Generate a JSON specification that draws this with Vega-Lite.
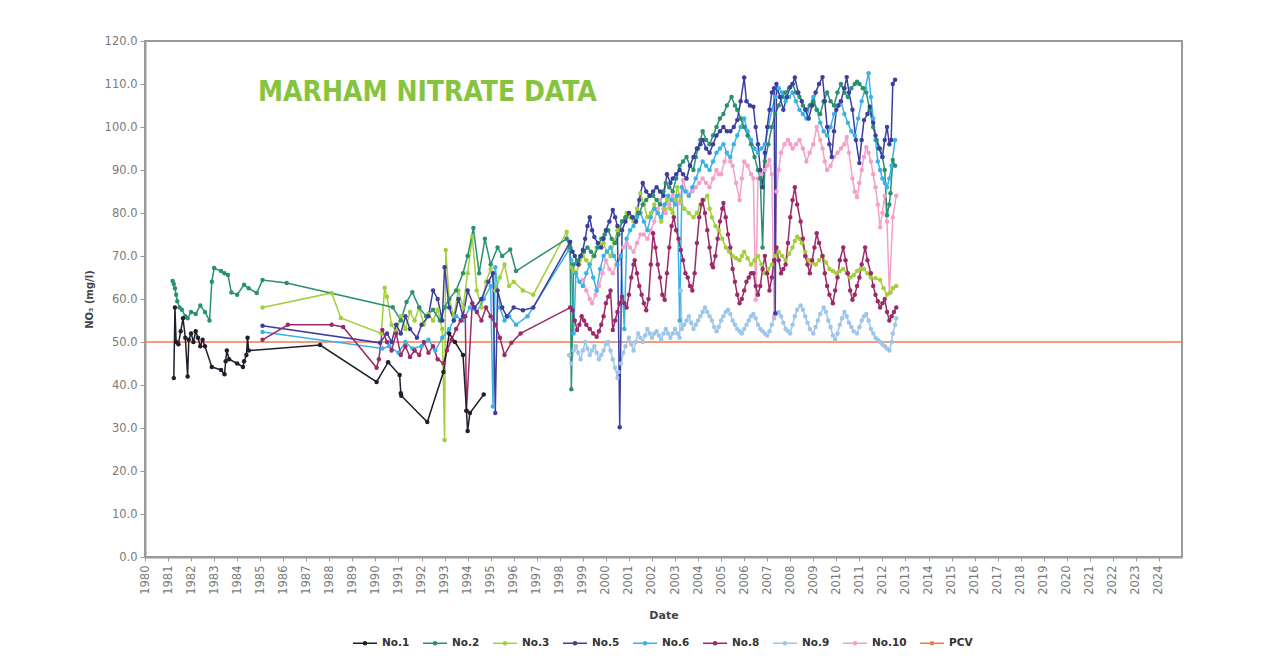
{
"$schema":"https://vega.github.io/schema/vega-lite/v6.json",
"autosize":"none",
"width":1037,"height":516,
"padding":{"left":145,"top":41,"right":81,"bottom":107},
"background":"white",
"title":{"text":"MARHAM NITRATE DATA","anchor":"start","frame":"group","dx":113,"dy":94,"offset":0,"baseline":"alphabetic","font":"DejaVu Sans Condensed, DejaVu Sans, sans-serif","fontWeight":"bold","fontSize":28,"color":"#86c440"},
"config":{"view":{"stroke":"#9a9a9a","strokeWidth":2},"axis":{"labelFont":"DejaVu Sans","titleFont":"DejaVu Sans","labelColor":"#7a7a7a","titleColor":"#444444","tickColor":"#9a9a9a","domainColor":"#9a9a9a","domainWidth":2,"grid":false}},
"data":{"values":[
{"s":"PCV","t":1980,"v":50},{"s":"PCV","t":2025,"v":50},
{"s":"No.9","t":1998.4,"v":47},{"s":"No.9","t":1998.5,"v":45},{"s":"No.9","t":1998.6,"v":48},{"s":"No.9","t":1998.7,"v":49},{"s":"No.9","t":1998.8,"v":47.5},{"s":"No.9","t":1998.9,"v":46},{"s":"No.9","t":1999.0,"v":48},{"s":"No.9","t":1999.1,"v":50},{"s":"No.9","t":1999.2,"v":48.5},{"s":"No.9","t":1999.3,"v":47},{"s":"No.9","t":1999.4,"v":48},{"s":"No.9","t":1999.5,"v":49},{"s":"No.9","t":1999.6,"v":47.5},{"s":"No.9","t":1999.7,"v":46},{"s":"No.9","t":1999.8,"v":47},{"s":"No.9","t":1999.9,"v":48},{"s":"No.9","t":2000.0,"v":49.5},{"s":"No.9","t":2000.1,"v":50},{"s":"No.9","t":2000.2,"v":48},{"s":"No.9","t":2000.3,"v":46},{"s":"No.9","t":2000.4,"v":44},{"s":"No.9","t":2000.5,"v":41.6},{"s":"No.9","t":2000.55,"v":43},{"s":"No.9","t":2000.65,"v":45},{"s":"No.9","t":2000.75,"v":47.5},{"s":"No.9","t":2000.85,"v":49},{"s":"No.9","t":2001.0,"v":51},{"s":"No.9","t":2001.1,"v":49.5},{"s":"No.9","t":2001.2,"v":48},{"s":"No.9","t":2001.3,"v":50},{"s":"No.9","t":2001.4,"v":52},{"s":"No.9","t":2001.5,"v":51},{"s":"No.9","t":2001.6,"v":50},{"s":"No.9","t":2001.7,"v":51.5},{"s":"No.9","t":2001.8,"v":53},{"s":"No.9","t":2001.9,"v":52},{"s":"No.9","t":2002.0,"v":51},{"s":"No.9","t":2002.1,"v":52},{"s":"No.9","t":2002.2,"v":52.5},{"s":"No.9","t":2002.3,"v":51.5},{"s":"No.9","t":2002.4,"v":50.5},{"s":"No.9","t":2002.5,"v":52},{"s":"No.9","t":2002.6,"v":53},{"s":"No.9","t":2002.7,"v":52},{"s":"No.9","t":2002.8,"v":51},{"s":"No.9","t":2002.9,"v":52},{"s":"No.9","t":2003.0,"v":53},{"s":"No.9","t":2003.1,"v":52},{"s":"No.9","t":2003.2,"v":51},{"s":"No.9","t":2003.25,"v":62},{"s":"No.9","t":2003.3,"v":53},{"s":"No.9","t":2003.4,"v":54},{"s":"No.9","t":2003.5,"v":55},{"s":"No.9","t":2003.6,"v":56},{"s":"No.9","t":2003.7,"v":54.5},{"s":"No.9","t":2003.8,"v":53},{"s":"No.9","t":2003.9,"v":54},{"s":"No.9","t":2004.0,"v":55},{"s":"No.9","t":2004.1,"v":56},{"s":"No.9","t":2004.2,"v":57},{"s":"No.9","t":2004.3,"v":58},{"s":"No.9","t":2004.4,"v":57},{"s":"No.9","t":2004.5,"v":56},{"s":"No.9","t":2004.6,"v":55},{"s":"No.9","t":2004.7,"v":53.5},{"s":"No.9","t":2004.8,"v":52.5},{"s":"No.9","t":2004.9,"v":53.5},{"s":"No.9","t":2005.0,"v":55},{"s":"No.9","t":2005.1,"v":56},{"s":"No.9","t":2005.2,"v":57},{"s":"No.9","t":2005.3,"v":57.5},{"s":"No.9","t":2005.4,"v":56.5},{"s":"No.9","t":2005.5,"v":55},{"s":"No.9","t":2005.6,"v":54},{"s":"No.9","t":2005.7,"v":53},{"s":"No.9","t":2005.8,"v":52.5},{"s":"No.9","t":2005.9,"v":52},{"s":"No.9","t":2006.0,"v":53},{"s":"No.9","t":2006.1,"v":54},{"s":"No.9","t":2006.2,"v":55},{"s":"No.9","t":2006.3,"v":56},{"s":"No.9","t":2006.4,"v":56.5},{"s":"No.9","t":2006.5,"v":55.5},{"s":"No.9","t":2006.6,"v":54},{"s":"No.9","t":2006.7,"v":53},{"s":"No.9","t":2006.8,"v":52.5},{"s":"No.9","t":2006.9,"v":52},{"s":"No.9","t":2007.0,"v":51.5},{"s":"No.9","t":2007.1,"v":52.5},{"s":"No.9","t":2007.2,"v":54},{"s":"No.9","t":2007.3,"v":55.5},{"s":"No.9","t":2007.4,"v":56.5},{"s":"No.9","t":2007.5,"v":57},{"s":"No.9","t":2007.6,"v":56},{"s":"No.9","t":2007.7,"v":54.5},{"s":"No.9","t":2007.8,"v":53},{"s":"No.9","t":2007.9,"v":52.5},{"s":"No.9","t":2008.0,"v":52},{"s":"No.9","t":2008.1,"v":54},{"s":"No.9","t":2008.2,"v":56},{"s":"No.9","t":2008.3,"v":57.5},{"s":"No.9","t":2008.45,"v":58.5},{"s":"No.9","t":2008.55,"v":57.5},{"s":"No.9","t":2008.65,"v":56},{"s":"No.9","t":2008.75,"v":54.5},{"s":"No.9","t":2008.85,"v":53},{"s":"No.9","t":2009.0,"v":52},{"s":"No.9","t":2009.1,"v":53.5},{"s":"No.9","t":2009.2,"v":55},{"s":"No.9","t":2009.3,"v":56.5},{"s":"No.9","t":2009.45,"v":58},{"s":"No.9","t":2009.55,"v":57},{"s":"No.9","t":2009.65,"v":55},{"s":"No.9","t":2009.75,"v":53.5},{"s":"No.9","t":2009.85,"v":51.5},{"s":"No.9","t":2009.95,"v":50.5},{"s":"No.9","t":2010.05,"v":52},{"s":"No.9","t":2010.15,"v":54},{"s":"No.9","t":2010.25,"v":55.5},{"s":"No.9","t":2010.35,"v":57},{"s":"No.9","t":2010.45,"v":56},{"s":"No.9","t":2010.55,"v":54.5},{"s":"No.9","t":2010.65,"v":53.5},{"s":"No.9","t":2010.75,"v":52.5},{"s":"No.9","t":2010.9,"v":52},{"s":"No.9","t":2011.0,"v":53.5},{"s":"No.9","t":2011.1,"v":55},{"s":"No.9","t":2011.2,"v":56},{"s":"No.9","t":2011.3,"v":56.5},{"s":"No.9","t":2011.4,"v":55},{"s":"No.9","t":2011.5,"v":53},{"s":"No.9","t":2011.6,"v":52},{"s":"No.9","t":2011.7,"v":51},{"s":"No.9","t":2011.8,"v":50.5},{"s":"No.9","t":2011.9,"v":50},{"s":"No.9","t":2012.0,"v":49.5},{"s":"No.9","t":2012.1,"v":49},{"s":"No.9","t":2012.2,"v":48.5},{"s":"No.9","t":2012.3,"v":48},{"s":"No.9","t":2012.4,"v":50},{"s":"No.9","t":2012.45,"v":52},{"s":"No.9","t":2012.55,"v":54},{"s":"No.9","t":2012.6,"v":55.5},
{"s":"No.10","t":1999.0,"v":64.4},{"s":"No.10","t":1999.15,"v":62},{"s":"No.10","t":1999.3,"v":60},{"s":"No.10","t":1999.4,"v":59},{"s":"No.10","t":1999.55,"v":61},{"s":"No.10","t":1999.7,"v":63},{"s":"No.10","t":1999.85,"v":66},{"s":"No.10","t":2000.0,"v":69},{"s":"No.10","t":2000.15,"v":67},{"s":"No.10","t":2000.3,"v":66},{"s":"No.10","t":2000.45,"v":68},{"s":"No.10","t":2000.6,"v":70},{"s":"No.10","t":2000.75,"v":72},{"s":"No.10","t":2000.9,"v":73},{"s":"No.10","t":2001.05,"v":72},{"s":"No.10","t":2001.2,"v":71},{"s":"No.10","t":2001.35,"v":73},{"s":"No.10","t":2001.5,"v":75},{"s":"No.10","t":2001.65,"v":75},{"s":"No.10","t":2001.8,"v":74},{"s":"No.10","t":2001.95,"v":76},{"s":"No.10","t":2002.1,"v":78},{"s":"No.10","t":2002.25,"v":81},{"s":"No.10","t":2002.35,"v":83},{"s":"No.10","t":2002.5,"v":81},{"s":"No.10","t":2002.6,"v":80},{"s":"No.10","t":2002.75,"v":82},{"s":"No.10","t":2002.9,"v":84},{"s":"No.10","t":2003.05,"v":83},{"s":"No.10","t":2003.2,"v":82.3},{"s":"No.10","t":2003.35,"v":87.7},{"s":"No.10","t":2003.5,"v":85},{"s":"No.10","t":2003.6,"v":84},{"s":"No.10","t":2003.75,"v":85},{"s":"No.10","t":2003.9,"v":86},{"s":"No.10","t":2004.05,"v":87},{"s":"No.10","t":2004.2,"v":88},{"s":"No.10","t":2004.35,"v":87},{"s":"No.10","t":2004.5,"v":86},{"s":"No.10","t":2004.65,"v":88},{"s":"No.10","t":2004.8,"v":90},{"s":"No.10","t":2004.9,"v":89},{"s":"No.10","t":2005.0,"v":89},{"s":"No.10","t":2005.15,"v":92},{"s":"No.10","t":2005.25,"v":94},{"s":"No.10","t":2005.4,"v":92},{"s":"No.10","t":2005.5,"v":91},{"s":"No.10","t":2005.65,"v":87},{"s":"No.10","t":2005.8,"v":83},{"s":"No.10","t":2005.9,"v":88},{"s":"No.10","t":2006.0,"v":92},{"s":"No.10","t":2006.15,"v":91},{"s":"No.10","t":2006.3,"v":89},{"s":"No.10","t":2006.4,"v":88},{"s":"No.10","t":2006.5,"v":59.8},{"s":"No.10","t":2006.6,"v":88},{"s":"No.10","t":2006.75,"v":89},{"s":"No.10","t":2006.9,"v":90},{"s":"No.10","t":2007.0,"v":91},{"s":"No.10","t":2007.1,"v":92.3},{"s":"No.10","t":2007.2,"v":89},{"s":"No.10","t":2007.3,"v":56},{"s":"No.10","t":2007.4,"v":85},{"s":"No.10","t":2007.5,"v":90},{"s":"No.10","t":2007.6,"v":94},{"s":"No.10","t":2007.75,"v":96},{"s":"No.10","t":2007.9,"v":97},{"s":"No.10","t":2008.0,"v":96},{"s":"No.10","t":2008.1,"v":95},{"s":"No.10","t":2008.25,"v":96},{"s":"No.10","t":2008.4,"v":97},{"s":"No.10","t":2008.55,"v":95},{"s":"No.10","t":2008.7,"v":92},{"s":"No.10","t":2008.85,"v":94},{"s":"No.10","t":2009.0,"v":96},{"s":"No.10","t":2009.15,"v":100},{"s":"No.10","t":2009.3,"v":97},{"s":"No.10","t":2009.4,"v":95},{"s":"No.10","t":2009.5,"v":92},{"s":"No.10","t":2009.6,"v":90},{"s":"No.10","t":2009.75,"v":91},{"s":"No.10","t":2009.9,"v":93},{"s":"No.10","t":2010.05,"v":94},{"s":"No.10","t":2010.2,"v":95},{"s":"No.10","t":2010.35,"v":96},{"s":"No.10","t":2010.45,"v":97.7},{"s":"No.10","t":2010.55,"v":94},{"s":"No.10","t":2010.7,"v":88},{"s":"No.10","t":2010.8,"v":85},{"s":"No.10","t":2010.9,"v":83.7},{"s":"No.10","t":2011.0,"v":87},{"s":"No.10","t":2011.1,"v":90},{"s":"No.10","t":2011.2,"v":93},{"s":"No.10","t":2011.3,"v":95.3},{"s":"No.10","t":2011.4,"v":94},{"s":"No.10","t":2011.5,"v":92},{"s":"No.10","t":2011.6,"v":89},{"s":"No.10","t":2011.7,"v":86},{"s":"No.10","t":2011.8,"v":82},{"s":"No.10","t":2011.9,"v":76.7},{"s":"No.10","t":2012.0,"v":80},{"s":"No.10","t":2012.1,"v":84},{"s":"No.10","t":2012.2,"v":78},{"s":"No.10","t":2012.3,"v":61.4},{"s":"No.10","t":2012.45,"v":79},{"s":"No.10","t":2012.6,"v":84},
{"s":"No.3","t":1985.1,"v":58},{"s":"No.3","t":1988.1,"v":61.4},{"s":"No.3","t":1988.5,"v":55.6},{"s":"No.3","t":1990.25,"v":52},{"s":"No.3","t":1990.4,"v":62.6},{"s":"No.3","t":1990.5,"v":60.5},{"s":"No.3","t":1990.7,"v":54},{"s":"No.3","t":1990.9,"v":52.5},{"s":"No.3","t":1991.1,"v":56},{"s":"No.3","t":1991.3,"v":53},{"s":"No.3","t":1991.5,"v":57},{"s":"No.3","t":1991.7,"v":55},{"s":"No.3","t":1991.9,"v":58},{"s":"No.3","t":1992.1,"v":54},{"s":"No.3","t":1992.3,"v":56.5},{"s":"No.3","t":1992.5,"v":55},{"s":"No.3","t":1992.7,"v":57.5},{"s":"No.3","t":1992.9,"v":53},{"s":"No.3","t":1993.0,"v":27.2},{"s":"No.3","t":1993.05,"v":71.4},{"s":"No.3","t":1993.2,"v":60},{"s":"No.3","t":1993.4,"v":56},{"s":"No.3","t":1993.6,"v":62},{"s":"No.3","t":1993.8,"v":58},{"s":"No.3","t":1994.0,"v":66},{"s":"No.3","t":1994.2,"v":74.5},{"s":"No.3","t":1994.4,"v":62},{"s":"No.3","t":1994.6,"v":58},{"s":"No.3","t":1994.8,"v":64},{"s":"No.3","t":1995.0,"v":67},{"s":"No.3","t":1995.2,"v":62},{"s":"No.3","t":1995.4,"v":65},{"s":"No.3","t":1995.6,"v":68},{"s":"No.3","t":1995.8,"v":63},{"s":"No.3","t":1996.0,"v":64},{"s":"No.3","t":1996.4,"v":62},{"s":"No.3","t":1996.85,"v":61},{"s":"No.3","t":1998.3,"v":75.6},{"s":"No.3","t":1998.5,"v":67.4},{"s":"No.3","t":1998.6,"v":66.5},{"s":"No.3","t":1998.7,"v":66},{"s":"No.3","t":1998.85,"v":68},{"s":"No.3","t":1999.0,"v":70},{"s":"No.3","t":1999.15,"v":69},{"s":"No.3","t":1999.3,"v":68},{"s":"No.3","t":1999.45,"v":70},{"s":"No.3","t":1999.6,"v":72},{"s":"No.3","t":1999.75,"v":72.5},{"s":"No.3","t":1999.9,"v":73},{"s":"No.3","t":2000.05,"v":71},{"s":"No.3","t":2000.2,"v":70},{"s":"No.3","t":2000.35,"v":73},{"s":"No.3","t":2000.5,"v":76},{"s":"No.3","t":2000.7,"v":78},{"s":"No.3","t":2000.9,"v":80},{"s":"No.3","t":2001.05,"v":79},{"s":"No.3","t":2001.2,"v":78},{"s":"No.3","t":2001.35,"v":81},{"s":"No.3","t":2001.5,"v":84.6},{"s":"No.3","t":2001.65,"v":82},{"s":"No.3","t":2001.8,"v":79},{"s":"No.3","t":2001.95,"v":80},{"s":"No.3","t":2002.1,"v":82},{"s":"No.3","t":2002.25,"v":80},{"s":"No.3","t":2002.4,"v":78},{"s":"No.3","t":2002.55,"v":81},{"s":"No.3","t":2002.65,"v":83},{"s":"No.3","t":2002.8,"v":81},{"s":"No.3","t":2002.9,"v":80},{"s":"No.3","t":2003.0,"v":83},{"s":"No.3","t":2003.1,"v":86},{"s":"No.3","t":2003.25,"v":83},{"s":"No.3","t":2003.4,"v":81},{"s":"No.3","t":2003.6,"v":80},{"s":"No.3","t":2003.8,"v":79},{"s":"No.3","t":2003.95,"v":80},{"s":"No.3","t":2004.1,"v":82},{"s":"No.3","t":2004.25,"v":83},{"s":"No.3","t":2004.4,"v":84},{"s":"No.3","t":2004.5,"v":81},{"s":"No.3","t":2004.6,"v":79},{"s":"No.3","t":2004.75,"v":77},{"s":"No.3","t":2004.9,"v":76},{"s":"No.3","t":2005.05,"v":74},{"s":"No.3","t":2005.2,"v":72},{"s":"No.3","t":2005.35,"v":71},{"s":"No.3","t":2005.5,"v":70},{"s":"No.3","t":2005.65,"v":69.5},{"s":"No.3","t":2005.8,"v":69},{"s":"No.3","t":2005.9,"v":70},{"s":"No.3","t":2006.0,"v":71},{"s":"No.3","t":2006.15,"v":69.5},{"s":"No.3","t":2006.3,"v":68},{"s":"No.3","t":2006.45,"v":69},{"s":"No.3","t":2006.6,"v":70},{"s":"No.3","t":2006.75,"v":68},{"s":"No.3","t":2006.9,"v":66},{"s":"No.3","t":2007.05,"v":67},{"s":"No.3","t":2007.2,"v":68},{"s":"No.3","t":2007.35,"v":70},{"s":"No.3","t":2007.5,"v":71},{"s":"No.3","t":2007.65,"v":70},{"s":"No.3","t":2007.8,"v":69},{"s":"No.3","t":2007.95,"v":70.5},{"s":"No.3","t":2008.1,"v":72},{"s":"No.3","t":2008.2,"v":73.5},{"s":"No.3","t":2008.3,"v":74.5},{"s":"No.3","t":2008.4,"v":74},{"s":"No.3","t":2008.5,"v":73},{"s":"No.3","t":2008.65,"v":71},{"s":"No.3","t":2008.8,"v":69},{"s":"No.3","t":2008.95,"v":68.5},{"s":"No.3","t":2009.1,"v":68},{"s":"No.3","t":2009.25,"v":69},{"s":"No.3","t":2009.4,"v":70},{"s":"No.3","t":2009.55,"v":68.5},{"s":"No.3","t":2009.7,"v":67},{"s":"No.3","t":2009.85,"v":66.5},{"s":"No.3","t":2010.0,"v":66},{"s":"No.3","t":2010.15,"v":66.5},{"s":"No.3","t":2010.3,"v":67},{"s":"No.3","t":2010.45,"v":66},{"s":"No.3","t":2010.6,"v":65},{"s":"No.3","t":2010.75,"v":65.5},{"s":"No.3","t":2010.9,"v":66.5},{"s":"No.3","t":2011.05,"v":67},{"s":"No.3","t":2011.2,"v":67},{"s":"No.3","t":2011.35,"v":66},{"s":"No.3","t":2011.5,"v":65},{"s":"No.3","t":2011.7,"v":64.8},{"s":"No.3","t":2011.9,"v":64.4},{"s":"No.3","t":2012.05,"v":62.5},{"s":"No.3","t":2012.2,"v":61},{"s":"No.3","t":2012.35,"v":61.5},{"s":"No.3","t":2012.45,"v":62.5},{"s":"No.3","t":2012.6,"v":63},
{"s":"No.6","t":1985.1,"v":52.3},{"s":"No.6","t":1990.3,"v":48.5},{"s":"No.6","t":1990.6,"v":49},{"s":"No.6","t":1991.0,"v":47.5},{"s":"No.6","t":1991.3,"v":50},{"s":"No.6","t":1991.6,"v":48.5},{"s":"No.6","t":1992.0,"v":49},{"s":"No.6","t":1992.3,"v":50.5},{"s":"No.6","t":1992.6,"v":48},{"s":"No.6","t":1992.9,"v":51},{"s":"No.6","t":1993.2,"v":53},{"s":"No.6","t":1993.5,"v":56},{"s":"No.6","t":1993.8,"v":55},{"s":"No.6","t":1994.1,"v":58},{"s":"No.6","t":1994.4,"v":57},{"s":"No.6","t":1994.7,"v":60},{"s":"No.6","t":1995.0,"v":63},{"s":"No.6","t":1995.1,"v":35},{"s":"No.6","t":1995.2,"v":67.4},{"s":"No.6","t":1995.4,"v":58},{"s":"No.6","t":1995.6,"v":55},{"s":"No.6","t":1995.8,"v":56},{"s":"No.6","t":1996.1,"v":54},{"s":"No.6","t":1996.6,"v":56},{"s":"No.6","t":1998.4,"v":71.5},{"s":"No.6","t":1998.5,"v":69},{"s":"No.6","t":1998.6,"v":52},{"s":"No.6","t":1998.7,"v":66},{"s":"No.6","t":1998.85,"v":64},{"s":"No.6","t":1999.0,"v":63},{"s":"No.6","t":1999.15,"v":66},{"s":"No.6","t":1999.3,"v":68},{"s":"No.6","t":1999.45,"v":65},{"s":"No.6","t":1999.6,"v":62},{"s":"No.6","t":1999.75,"v":67},{"s":"No.6","t":1999.9,"v":70},{"s":"No.6","t":2000.05,"v":71},{"s":"No.6","t":2000.2,"v":72},{"s":"No.6","t":2000.35,"v":70},{"s":"No.6","t":2000.5,"v":68},{"s":"No.6","t":2000.65,"v":70},{"s":"No.6","t":2000.8,"v":53},{"s":"No.6","t":2000.9,"v":74},{"s":"No.6","t":2001.05,"v":76},{"s":"No.6","t":2001.2,"v":77},{"s":"No.6","t":2001.35,"v":79},{"s":"No.6","t":2001.5,"v":80},{"s":"No.6","t":2001.65,"v":78},{"s":"No.6","t":2001.8,"v":76},{"s":"No.6","t":2001.95,"v":79},{"s":"No.6","t":2002.1,"v":81},{"s":"No.6","t":2002.25,"v":80},{"s":"No.6","t":2002.4,"v":79},{"s":"No.6","t":2002.55,"v":82},{"s":"No.6","t":2002.7,"v":84},{"s":"No.6","t":2002.85,"v":83},{"s":"No.6","t":2003.0,"v":82},{"s":"No.6","t":2003.1,"v":84},{"s":"No.6","t":2003.2,"v":55},{"s":"No.6","t":2003.3,"v":86},{"s":"No.6","t":2003.45,"v":85},{"s":"No.6","t":2003.6,"v":84},{"s":"No.6","t":2003.75,"v":86},{"s":"No.6","t":2003.9,"v":88},{"s":"No.6","t":2004.05,"v":90},{"s":"No.6","t":2004.2,"v":92},{"s":"No.6","t":2004.35,"v":91},{"s":"No.6","t":2004.5,"v":90},{"s":"No.6","t":2004.65,"v":92},{"s":"No.6","t":2004.8,"v":94},{"s":"No.6","t":2004.95,"v":95},{"s":"No.6","t":2005.1,"v":96},{"s":"No.6","t":2005.25,"v":94},{"s":"No.6","t":2005.4,"v":93},{"s":"No.6","t":2005.55,"v":96},{"s":"No.6","t":2005.7,"v":98},{"s":"No.6","t":2005.85,"v":100},{"s":"No.6","t":2006.0,"v":102},{"s":"No.6","t":2006.15,"v":99},{"s":"No.6","t":2006.3,"v":97},{"s":"No.6","t":2006.45,"v":95},{"s":"No.6","t":2006.6,"v":94},{"s":"No.6","t":2006.75,"v":95},{"s":"No.6","t":2006.9,"v":96},{"s":"No.6","t":2007.05,"v":100},{"s":"No.6","t":2007.2,"v":104},{"s":"No.6","t":2007.35,"v":107},{"s":"No.6","t":2007.5,"v":109},{"s":"No.6","t":2007.65,"v":108},{"s":"No.6","t":2007.8,"v":106},{"s":"No.6","t":2007.95,"v":107},{"s":"No.6","t":2008.1,"v":108},{"s":"No.6","t":2008.25,"v":106},{"s":"No.6","t":2008.4,"v":104},{"s":"No.6","t":2008.55,"v":103},{"s":"No.6","t":2008.7,"v":102},{"s":"No.6","t":2008.85,"v":105},{"s":"No.6","t":2009.0,"v":107},{"s":"No.6","t":2009.15,"v":104},{"s":"No.6","t":2009.3,"v":101},{"s":"No.6","t":2009.45,"v":99},{"s":"No.6","t":2009.6,"v":98},{"s":"No.6","t":2009.75,"v":100},{"s":"No.6","t":2009.9,"v":103},{"s":"No.6","t":2010.05,"v":105},{"s":"No.6","t":2010.2,"v":106},{"s":"No.6","t":2010.35,"v":103},{"s":"No.6","t":2010.5,"v":101},{"s":"No.6","t":2010.65,"v":99},{"s":"No.6","t":2010.8,"v":98},{"s":"No.6","t":2010.95,"v":102},{"s":"No.6","t":2011.1,"v":106},{"s":"No.6","t":2011.25,"v":109},{"s":"No.6","t":2011.4,"v":112.5},{"s":"No.6","t":2011.5,"v":107},{"s":"No.6","t":2011.6,"v":102},{"s":"No.6","t":2011.7,"v":97},{"s":"No.6","t":2011.8,"v":92},{"s":"No.6","t":2011.9,"v":90},{"s":"No.6","t":2012.0,"v":88},{"s":"No.6","t":2012.1,"v":87},{"s":"No.6","t":2012.2,"v":86},{"s":"No.6","t":2012.3,"v":88},{"s":"No.6","t":2012.4,"v":91},{"s":"No.6","t":2012.55,"v":97},
{"s":"No.2","t":1981.2,"v":64.2},{"s":"No.2","t":1981.25,"v":63.5},{"s":"No.2","t":1981.3,"v":62.5},{"s":"No.2","t":1981.35,"v":61},{"s":"No.2","t":1981.4,"v":59.5},{"s":"No.2","t":1981.5,"v":58},{"s":"No.2","t":1981.6,"v":57.5},{"s":"No.2","t":1981.75,"v":56},{"s":"No.2","t":1981.85,"v":55.5},{"s":"No.2","t":1982.0,"v":57},{"s":"No.2","t":1982.2,"v":56.5},{"s":"No.2","t":1982.4,"v":58.5},{"s":"No.2","t":1982.6,"v":57},{"s":"No.2","t":1982.8,"v":55},{"s":"No.2","t":1982.9,"v":64},{"s":"No.2","t":1983.0,"v":67.2},{"s":"No.2","t":1983.3,"v":66.5},{"s":"No.2","t":1983.45,"v":66},{"s":"No.2","t":1983.6,"v":65.6},{"s":"No.2","t":1983.75,"v":61.5},{"s":"No.2","t":1984.0,"v":61},{"s":"No.2","t":1984.3,"v":63.3},{"s":"No.2","t":1984.5,"v":62.5},{"s":"No.2","t":1984.85,"v":61.4},{"s":"No.2","t":1985.1,"v":64.4},{"s":"No.2","t":1986.15,"v":63.7},{"s":"No.2","t":1990.75,"v":58.1},{"s":"No.2","t":1991.1,"v":55},{"s":"No.2","t":1991.35,"v":59.3},{"s":"No.2","t":1991.6,"v":61.6},{"s":"No.2","t":1991.9,"v":58},{"s":"No.2","t":1992.2,"v":56},{"s":"No.2","t":1992.5,"v":57.5},{"s":"No.2","t":1992.8,"v":55},{"s":"No.2","t":1993.0,"v":58},{"s":"No.2","t":1993.2,"v":60},{"s":"No.2","t":1993.5,"v":62},{"s":"No.2","t":1993.8,"v":66},{"s":"No.2","t":1994.0,"v":70},{"s":"No.2","t":1994.25,"v":76.5},{"s":"No.2","t":1994.5,"v":66},{"s":"No.2","t":1994.75,"v":74},{"s":"No.2","t":1995.0,"v":68},{"s":"No.2","t":1995.3,"v":72},{"s":"No.2","t":1995.5,"v":70},{"s":"No.2","t":1995.85,"v":71.5},{"s":"No.2","t":1996.1,"v":66.5},{"s":"No.2","t":1998.3,"v":74},{"s":"No.2","t":1998.45,"v":72},{"s":"No.2","t":1998.5,"v":39},{"s":"No.2","t":1998.6,"v":68},{"s":"No.2","t":1998.75,"v":69},{"s":"No.2","t":1998.9,"v":70},{"s":"No.2","t":1999.05,"v":71},{"s":"No.2","t":1999.2,"v":72},{"s":"No.2","t":1999.35,"v":71},{"s":"No.2","t":1999.5,"v":70},{"s":"No.2","t":1999.65,"v":72},{"s":"No.2","t":1999.8,"v":74},{"s":"No.2","t":1999.95,"v":75},{"s":"No.2","t":2000.1,"v":76},{"s":"No.2","t":2000.25,"v":74},{"s":"No.2","t":2000.4,"v":73},{"s":"No.2","t":2000.55,"v":75},{"s":"No.2","t":2000.7,"v":78},{"s":"No.2","t":2000.85,"v":79},{"s":"No.2","t":2001.0,"v":80},{"s":"No.2","t":2001.15,"v":79},{"s":"No.2","t":2001.3,"v":78},{"s":"No.2","t":2001.45,"v":80},{"s":"No.2","t":2001.6,"v":82},{"s":"No.2","t":2001.75,"v":83},{"s":"No.2","t":2001.9,"v":84},{"s":"No.2","t":2002.05,"v":84},{"s":"No.2","t":2002.2,"v":83},{"s":"No.2","t":2002.35,"v":82},{"s":"No.2","t":2002.5,"v":85},{"s":"No.2","t":2002.6,"v":87},{"s":"No.2","t":2002.75,"v":86},{"s":"No.2","t":2002.9,"v":85},{"s":"No.2","t":2003.05,"v":88},{"s":"No.2","t":2003.2,"v":91},{"s":"No.2","t":2003.35,"v":92},{"s":"No.2","t":2003.5,"v":93},{"s":"No.2","t":2003.65,"v":91},{"s":"No.2","t":2003.8,"v":90},{"s":"No.2","t":2003.9,"v":93},{"s":"No.2","t":2004.0,"v":95},{"s":"No.2","t":2004.1,"v":97},{"s":"No.2","t":2004.2,"v":99},{"s":"No.2","t":2004.35,"v":97},{"s":"No.2","t":2004.5,"v":96},{"s":"No.2","t":2004.65,"v":98},{"s":"No.2","t":2004.8,"v":100},{"s":"No.2","t":2004.95,"v":102},{"s":"No.2","t":2005.1,"v":103},{"s":"No.2","t":2005.25,"v":105},{"s":"No.2","t":2005.45,"v":107},{"s":"No.2","t":2005.6,"v":105},{"s":"No.2","t":2005.7,"v":104},{"s":"No.2","t":2005.85,"v":102},{"s":"No.2","t":2006.0,"v":100},{"s":"No.2","t":2006.15,"v":98},{"s":"No.2","t":2006.3,"v":96},{"s":"No.2","t":2006.45,"v":93},{"s":"No.2","t":2006.6,"v":90},{"s":"No.2","t":2006.7,"v":88},{"s":"No.2","t":2006.8,"v":72},{"s":"No.2","t":2006.9,"v":92},{"s":"No.2","t":2007.05,"v":96},{"s":"No.2","t":2007.2,"v":100},{"s":"No.2","t":2007.35,"v":103},{"s":"No.2","t":2007.5,"v":105},{"s":"No.2","t":2007.65,"v":107},{"s":"No.2","t":2007.8,"v":108},{"s":"No.2","t":2007.95,"v":109},{"s":"No.2","t":2008.1,"v":110},{"s":"No.2","t":2008.25,"v":108},{"s":"No.2","t":2008.4,"v":107},{"s":"No.2","t":2008.55,"v":105},{"s":"No.2","t":2008.7,"v":104},{"s":"No.2","t":2008.85,"v":105},{"s":"No.2","t":2009.0,"v":106},{"s":"No.2","t":2009.15,"v":104},{"s":"No.2","t":2009.3,"v":103},{"s":"No.2","t":2009.45,"v":106},{"s":"No.2","t":2009.6,"v":108},{"s":"No.2","t":2009.75,"v":106},{"s":"No.2","t":2009.9,"v":105},{"s":"No.2","t":2010.05,"v":108},{"s":"No.2","t":2010.2,"v":110},{"s":"No.2","t":2010.35,"v":108},{"s":"No.2","t":2010.5,"v":107},{"s":"No.2","t":2010.65,"v":109},{"s":"No.2","t":2010.8,"v":110},{"s":"No.2","t":2010.9,"v":110.5},{"s":"No.2","t":2011.0,"v":110},{"s":"No.2","t":2011.15,"v":109},{"s":"No.2","t":2011.3,"v":108},{"s":"No.2","t":2011.45,"v":104},{"s":"No.2","t":2011.6,"v":100},{"s":"No.2","t":2011.75,"v":97},{"s":"No.2","t":2011.9,"v":95},{"s":"No.2","t":2012.0,"v":93},{"s":"No.2","t":2012.1,"v":90},{"s":"No.2","t":2012.2,"v":79.5},{"s":"No.2","t":2012.3,"v":82},{"s":"No.2","t":2012.35,"v":84.6},{"s":"No.2","t":2012.45,"v":92.3},{"s":"No.2","t":2012.55,"v":91},
{"s":"No.5","t":1985.1,"v":53.8},{"s":"No.5","t":1990.2,"v":49.8},{"s":"No.5","t":1990.5,"v":52},{"s":"No.5","t":1990.7,"v":50},{"s":"No.5","t":1990.9,"v":54},{"s":"No.5","t":1991.1,"v":52},{"s":"No.5","t":1991.3,"v":56},{"s":"No.5","t":1991.5,"v":53},{"s":"No.5","t":1991.8,"v":51},{"s":"No.5","t":1992.0,"v":54},{"s":"No.5","t":1992.3,"v":56},{"s":"No.5","t":1992.5,"v":62},{"s":"No.5","t":1992.7,"v":60},{"s":"No.5","t":1992.9,"v":55},{"s":"No.5","t":1993.0,"v":67.4},{"s":"No.5","t":1993.2,"v":58},{"s":"No.5","t":1993.4,"v":55},{"s":"No.5","t":1993.6,"v":60},{"s":"No.5","t":1993.8,"v":56},{"s":"No.5","t":1994.0,"v":62},{"s":"No.5","t":1994.3,"v":58},{"s":"No.5","t":1994.6,"v":60},{"s":"No.5","t":1994.9,"v":64},{"s":"No.5","t":1995.1,"v":66},{"s":"No.5","t":1995.2,"v":33.5},{"s":"No.5","t":1995.3,"v":62},{"s":"No.5","t":1995.5,"v":58},{"s":"No.5","t":1995.7,"v":56},{"s":"No.5","t":1996.0,"v":58},{"s":"No.5","t":1996.4,"v":57.4},{"s":"No.5","t":1996.85,"v":58},{"s":"No.5","t":1998.45,"v":73.3},{"s":"No.5","t":1998.55,"v":71},{"s":"No.5","t":1998.65,"v":70},{"s":"No.5","t":1998.8,"v":68},{"s":"No.5","t":1998.9,"v":70},{"s":"No.5","t":1999.0,"v":71.4},{"s":"No.5","t":1999.1,"v":74},{"s":"No.5","t":1999.2,"v":77},{"s":"No.5","t":1999.3,"v":79},{"s":"No.5","t":1999.4,"v":76},{"s":"No.5","t":1999.5,"v":74.4},{"s":"No.5","t":1999.65,"v":73},{"s":"No.5","t":1999.8,"v":72},{"s":"No.5","t":1999.9,"v":74},{"s":"No.5","t":2000.0,"v":76},{"s":"No.5","t":2000.15,"v":78},{"s":"No.5","t":2000.3,"v":80.7},{"s":"No.5","t":2000.4,"v":79},{"s":"No.5","t":2000.5,"v":77},{"s":"No.5","t":2000.6,"v":30.2},{"s":"No.5","t":2000.7,"v":76},{"s":"No.5","t":2000.85,"v":78},{"s":"No.5","t":2001.0,"v":80},{"s":"No.5","t":2001.15,"v":79},{"s":"No.5","t":2001.3,"v":78},{"s":"No.5","t":2001.45,"v":83},{"s":"No.5","t":2001.6,"v":87},{"s":"No.5","t":2001.75,"v":85},{"s":"No.5","t":2001.9,"v":84},{"s":"No.5","t":2002.05,"v":85},{"s":"No.5","t":2002.2,"v":86},{"s":"No.5","t":2002.35,"v":85},{"s":"No.5","t":2002.5,"v":84},{"s":"No.5","t":2002.65,"v":89},{"s":"No.5","t":2002.8,"v":87},{"s":"No.5","t":2002.9,"v":88},{"s":"No.5","t":2003.05,"v":89},{"s":"No.5","t":2003.2,"v":90},{"s":"No.5","t":2003.35,"v":89},{"s":"No.5","t":2003.5,"v":88},{"s":"No.5","t":2003.65,"v":91},{"s":"No.5","t":2003.8,"v":93},{"s":"No.5","t":2003.95,"v":95},{"s":"No.5","t":2004.1,"v":96},{"s":"No.5","t":2004.2,"v":97},{"s":"No.5","t":2004.35,"v":95},{"s":"No.5","t":2004.5,"v":94},{"s":"No.5","t":2004.65,"v":96},{"s":"No.5","t":2004.8,"v":98},{"s":"No.5","t":2004.95,"v":99},{"s":"No.5","t":2005.1,"v":100},{"s":"No.5","t":2005.25,"v":99},{"s":"No.5","t":2005.4,"v":99},{"s":"No.5","t":2005.55,"v":100},{"s":"No.5","t":2005.7,"v":101.6},{"s":"No.5","t":2005.85,"v":106},{"s":"No.5","t":2006.0,"v":111.5},{"s":"No.5","t":2006.1,"v":106},{"s":"No.5","t":2006.25,"v":105},{"s":"No.5","t":2006.4,"v":104.7},{"s":"No.5","t":2006.5,"v":100},{"s":"No.5","t":2006.6,"v":96},{"s":"No.5","t":2006.7,"v":90},{"s":"No.5","t":2006.8,"v":86},{"s":"No.5","t":2006.9,"v":94},{"s":"No.5","t":2007.0,"v":100},{"s":"No.5","t":2007.1,"v":104},{"s":"No.5","t":2007.2,"v":108},{"s":"No.5","t":2007.3,"v":109},{"s":"No.5","t":2007.35,"v":56.7},{"s":"No.5","t":2007.4,"v":110},{"s":"No.5","t":2007.55,"v":107},{"s":"No.5","t":2007.7,"v":104},{"s":"No.5","t":2007.85,"v":107},{"s":"No.5","t":2008.0,"v":109.3},{"s":"No.5","t":2008.1,"v":110},{"s":"No.5","t":2008.2,"v":111.5},{"s":"No.5","t":2008.35,"v":108},{"s":"No.5","t":2008.5,"v":106},{"s":"No.5","t":2008.65,"v":104},{"s":"No.5","t":2008.8,"v":102},{"s":"No.5","t":2008.95,"v":105},{"s":"No.5","t":2009.1,"v":108},{"s":"No.5","t":2009.25,"v":110},{"s":"No.5","t":2009.4,"v":111.6},{"s":"No.5","t":2009.5,"v":106},{"s":"No.5","t":2009.6,"v":100},{"s":"No.5","t":2009.7,"v":96},{"s":"No.5","t":2009.8,"v":93},{"s":"No.5","t":2009.9,"v":99},{"s":"No.5","t":2010.0,"v":104},{"s":"No.5","t":2010.1,"v":105},{"s":"No.5","t":2010.2,"v":106},{"s":"No.5","t":2010.35,"v":109},{"s":"No.5","t":2010.45,"v":111.6},{"s":"No.5","t":2010.55,"v":108},{"s":"No.5","t":2010.7,"v":104},{"s":"No.5","t":2010.85,"v":97},{"s":"No.5","t":2011.0,"v":91.6},{"s":"No.5","t":2011.1,"v":97},{"s":"No.5","t":2011.2,"v":101.6},{"s":"No.5","t":2011.35,"v":103},{"s":"No.5","t":2011.45,"v":104.7},{"s":"No.5","t":2011.6,"v":101},{"s":"No.5","t":2011.7,"v":98},{"s":"No.5","t":2011.85,"v":95},{"s":"No.5","t":2012.0,"v":93},{"s":"No.5","t":2012.1,"v":97},{"s":"No.5","t":2012.2,"v":100},{"s":"No.5","t":2012.3,"v":96},{"s":"No.5","t":2012.38,"v":97},{"s":"No.5","t":2012.45,"v":110},{"s":"No.5","t":2012.55,"v":111},
{"s":"No.8","t":1985.1,"v":50.5},{"s":"No.8","t":1986.2,"v":54},{"s":"No.8","t":1988.1,"v":54},{"s":"No.8","t":1988.6,"v":53.5},{"s":"No.8","t":1990.05,"v":44},{"s":"No.8","t":1990.15,"v":46},{"s":"No.8","t":1990.3,"v":52.8},{"s":"No.8","t":1990.5,"v":50},{"s":"No.8","t":1990.7,"v":48},{"s":"No.8","t":1990.9,"v":52},{"s":"No.8","t":1991.1,"v":47},{"s":"No.8","t":1991.3,"v":49},{"s":"No.8","t":1991.5,"v":46.5},{"s":"No.8","t":1991.7,"v":48},{"s":"No.8","t":1991.9,"v":47},{"s":"No.8","t":1992.1,"v":50},{"s":"No.8","t":1992.3,"v":47.5},{"s":"No.8","t":1992.5,"v":49},{"s":"No.8","t":1992.7,"v":46},{"s":"No.8","t":1992.95,"v":45},{"s":"No.8","t":1993.1,"v":48},{"s":"No.8","t":1993.3,"v":50.5},{"s":"No.8","t":1993.5,"v":53},{"s":"No.8","t":1993.7,"v":55},{"s":"No.8","t":1993.9,"v":56},{"s":"No.8","t":1993.95,"v":34},{"s":"No.8","t":1994.2,"v":59},{"s":"No.8","t":1994.4,"v":57},{"s":"No.8","t":1994.6,"v":55},{"s":"No.8","t":1994.8,"v":58},{"s":"No.8","t":1995.0,"v":56},{"s":"No.8","t":1995.2,"v":54},{"s":"No.8","t":1995.4,"v":51},{"s":"No.8","t":1995.6,"v":47},{"s":"No.8","t":1995.9,"v":49.8},{"s":"No.8","t":1996.3,"v":52},{"s":"No.8","t":1998.45,"v":58},{"s":"No.8","t":1998.55,"v":57.4},{"s":"No.8","t":1998.65,"v":55},{"s":"No.8","t":1998.75,"v":52.8},{"s":"No.8","t":1998.85,"v":54},{"s":"No.8","t":1998.95,"v":56},{"s":"No.8","t":1999.05,"v":55},{"s":"No.8","t":1999.15,"v":54},{"s":"No.8","t":1999.3,"v":53},{"s":"No.8","t":1999.45,"v":52},{"s":"No.8","t":1999.6,"v":51.2},{"s":"No.8","t":1999.7,"v":52.5},{"s":"No.8","t":1999.8,"v":54},{"s":"No.8","t":1999.9,"v":56},{"s":"No.8","t":2000.0,"v":59},{"s":"No.8","t":2000.1,"v":60.5},{"s":"No.8","t":2000.2,"v":62},{"s":"No.8","t":2000.3,"v":52.8},{"s":"No.8","t":2000.4,"v":55},{"s":"No.8","t":2000.5,"v":57},{"s":"No.8","t":2000.6,"v":59},{"s":"No.8","t":2000.7,"v":60.5},{"s":"No.8","t":2000.8,"v":59},{"s":"No.8","t":2000.9,"v":58},{"s":"No.8","t":2001.0,"v":61},{"s":"No.8","t":2001.1,"v":65},{"s":"No.8","t":2001.2,"v":68},{"s":"No.8","t":2001.25,"v":69},{"s":"No.8","t":2001.35,"v":66},{"s":"No.8","t":2001.45,"v":63},{"s":"No.8","t":2001.55,"v":61},{"s":"No.8","t":2001.65,"v":59},{"s":"No.8","t":2001.75,"v":57.4},{"s":"No.8","t":2001.85,"v":60},{"s":"No.8","t":2001.95,"v":68},{"s":"No.8","t":2002.05,"v":75.3},{"s":"No.8","t":2002.15,"v":72},{"s":"No.8","t":2002.25,"v":68},{"s":"No.8","t":2002.35,"v":65},{"s":"No.8","t":2002.45,"v":61},{"s":"No.8","t":2002.55,"v":59.8},{"s":"No.8","t":2002.65,"v":66},{"s":"No.8","t":2002.75,"v":72},{"s":"No.8","t":2002.85,"v":77},{"s":"No.8","t":2002.95,"v":79},{"s":"No.8","t":2003.05,"v":76},{"s":"No.8","t":2003.15,"v":74},{"s":"No.8","t":2003.25,"v":71.4},{"s":"No.8","t":2003.35,"v":69},{"s":"No.8","t":2003.45,"v":66},{"s":"No.8","t":2003.55,"v":65},{"s":"No.8","t":2003.65,"v":63},{"s":"No.8","t":2003.75,"v":62},{"s":"No.8","t":2003.85,"v":66},{"s":"No.8","t":2003.95,"v":73},{"s":"No.8","t":2004.05,"v":79},{"s":"No.8","t":2004.15,"v":82},{"s":"No.8","t":2004.2,"v":83},{"s":"No.8","t":2004.3,"v":80},{"s":"No.8","t":2004.4,"v":76},{"s":"No.8","t":2004.5,"v":72},{"s":"No.8","t":2004.6,"v":68},{"s":"No.8","t":2004.65,"v":67.4},{"s":"No.8","t":2004.75,"v":70},{"s":"No.8","t":2004.85,"v":74},{"s":"No.8","t":2004.95,"v":78},{"s":"No.8","t":2005.05,"v":81},{"s":"No.8","t":2005.1,"v":82.3},{"s":"No.8","t":2005.2,"v":79},{"s":"No.8","t":2005.3,"v":75},{"s":"No.8","t":2005.4,"v":72},{"s":"No.8","t":2005.5,"v":67},{"s":"No.8","t":2005.6,"v":64},{"s":"No.8","t":2005.7,"v":61},{"s":"No.8","t":2005.8,"v":59},{"s":"No.8","t":2005.9,"v":60},{"s":"No.8","t":2006.0,"v":62},{"s":"No.8","t":2006.1,"v":64},{"s":"No.8","t":2006.2,"v":65},{"s":"No.8","t":2006.3,"v":66},{"s":"No.8","t":2006.4,"v":66},{"s":"No.8","t":2006.5,"v":63},{"s":"No.8","t":2006.6,"v":61},{"s":"No.8","t":2006.7,"v":63},{"s":"No.8","t":2006.8,"v":67},{"s":"No.8","t":2006.9,"v":70},{"s":"No.8","t":2007.0,"v":66},{"s":"No.8","t":2007.1,"v":62},{"s":"No.8","t":2007.2,"v":65},{"s":"No.8","t":2007.3,"v":69},{"s":"No.8","t":2007.4,"v":72},{"s":"No.8","t":2007.5,"v":69},{"s":"No.8","t":2007.6,"v":66},{"s":"No.8","t":2007.7,"v":67},{"s":"No.8","t":2007.8,"v":68},{"s":"No.8","t":2007.9,"v":73},{"s":"No.8","t":2008.0,"v":79},{"s":"No.8","t":2008.1,"v":83},{"s":"No.8","t":2008.2,"v":86},{"s":"No.8","t":2008.3,"v":82},{"s":"No.8","t":2008.45,"v":78},{"s":"No.8","t":2008.55,"v":74},{"s":"No.8","t":2008.65,"v":70},{"s":"No.8","t":2008.75,"v":68},{"s":"No.8","t":2008.85,"v":66},{"s":"No.8","t":2008.95,"v":69},{"s":"No.8","t":2009.05,"v":72},{"s":"No.8","t":2009.15,"v":75.3},{"s":"No.8","t":2009.25,"v":73},{"s":"No.8","t":2009.4,"v":70},{"s":"No.8","t":2009.5,"v":66},{"s":"No.8","t":2009.6,"v":63},{"s":"No.8","t":2009.7,"v":61},{"s":"No.8","t":2009.85,"v":59},{"s":"No.8","t":2009.95,"v":62},{"s":"No.8","t":2010.05,"v":65},{"s":"No.8","t":2010.15,"v":69},{"s":"No.8","t":2010.3,"v":72},{"s":"No.8","t":2010.4,"v":69},{"s":"No.8","t":2010.5,"v":66},{"s":"No.8","t":2010.6,"v":62},{"s":"No.8","t":2010.7,"v":59.8},{"s":"No.8","t":2010.8,"v":61},{"s":"No.8","t":2010.9,"v":63},{"s":"No.8","t":2011.0,"v":65},{"s":"No.8","t":2011.1,"v":68},{"s":"No.8","t":2011.25,"v":72},{"s":"No.8","t":2011.35,"v":69},{"s":"No.8","t":2011.5,"v":66},{"s":"No.8","t":2011.6,"v":63},{"s":"No.8","t":2011.7,"v":61},{"s":"No.8","t":2011.8,"v":59.5},{"s":"No.8","t":2011.9,"v":58},{"s":"No.8","t":2012.0,"v":59},{"s":"No.8","t":2012.1,"v":60},{"s":"No.8","t":2012.2,"v":57},{"s":"No.8","t":2012.3,"v":55},{"s":"No.8","t":2012.4,"v":56},{"s":"No.8","t":2012.5,"v":57},{"s":"No.8","t":2012.6,"v":58},
{"s":"No.1","t":1981.25,"v":41.6},{"s":"No.1","t":1981.3,"v":58},{"s":"No.1","t":1981.35,"v":50},{"s":"No.1","t":1981.45,"v":49.5},{"s":"No.1","t":1981.55,"v":52.5},{"s":"No.1","t":1981.65,"v":55.5},{"s":"No.1","t":1981.75,"v":51},{"s":"No.1","t":1981.85,"v":42},{"s":"No.1","t":1981.9,"v":50.5},{"s":"No.1","t":1982.0,"v":52},{"s":"No.1","t":1982.1,"v":50},{"s":"No.1","t":1982.2,"v":52.5},{"s":"No.1","t":1982.3,"v":51},{"s":"No.1","t":1982.4,"v":49},{"s":"No.1","t":1982.5,"v":50.5},{"s":"No.1","t":1982.6,"v":49},{"s":"No.1","t":1982.9,"v":44.2},{"s":"No.1","t":1983.3,"v":43.5},{"s":"No.1","t":1983.45,"v":42.5},{"s":"No.1","t":1983.5,"v":45.5},{"s":"No.1","t":1983.55,"v":48},{"s":"No.1","t":1983.65,"v":46},{"s":"No.1","t":1984.0,"v":45},{"s":"No.1","t":1984.25,"v":44.2},{"s":"No.1","t":1984.3,"v":45.5},{"s":"No.1","t":1984.4,"v":47},{"s":"No.1","t":1984.45,"v":51},{"s":"No.1","t":1984.5,"v":48},{"s":"No.1","t":1987.6,"v":49.3},{"s":"No.1","t":1990.05,"v":40.7},{"s":"No.1","t":1990.55,"v":45.3},{"s":"No.1","t":1991.05,"v":42.3},{"s":"No.1","t":1991.1,"v":38.1},{"s":"No.1","t":1991.12,"v":37.5},{"s":"No.1","t":1992.25,"v":31.4},{"s":"No.1","t":1992.95,"v":43},{"s":"No.1","t":1993.2,"v":52},{"s":"No.1","t":1993.45,"v":50},{"s":"No.1","t":1993.8,"v":47},{"s":"No.1","t":1993.95,"v":34},{"s":"No.1","t":1994.0,"v":29.3},{"s":"No.1","t":1994.1,"v":33.5},{"s":"No.1","t":1994.7,"v":37.8}
]},
"encoding":{
"x":{"field":"t","type":"quantitative","title":"Date","scale":{"domain":[1980,2025],"nice":false,"zero":false},
"axis":{"values":[1980,1981,1982,1983,1984,1985,1986,1987,1988,1989,1990,1991,1992,1993,1994,1995,1996,1997,1998,1999,2000,2001,2002,2003,2004,2005,2006,2007,2008,2009,2010,2011,2012,2013,2014,2015,2016,2017,2018,2019,2020,2021,2022,2023,2024],"format":"d","labelAngle":270,"labelAlign":"right","labelBaseline":"middle","labelFontSize":11.5,"tickSize":4,"labelPadding":4,"titleFontSize":11,"titleFontWeight":"bold","titlePadding":15}},
"y":{"field":"v","type":"quantitative","title":"NO₃ (mg/l)","scale":{"domain":[0,120],"nice":false},
"axis":{"values":[0,10,20,30,40,50,60,70,80,90,100,110,120],"format":".1f","labelFontSize":11.5,"tickSize":5,"labelPadding":3,"titleFontSize":10,"titleFontWeight":"bold","titlePadding":10}},
"color":{"field":"s","type":"nominal","scale":{"domain":["No.1","No.2","No.3","No.5","No.6","No.8","No.9","No.10","PCV"],"range":["#1e1e2c","#2a9070","#a2cf3a","#3c3f9e","#3ab2e8","#9c2a68","#9dc6ea","#f4a0c8","#f07a50"]},
"legend":{"title":null,"orient":"none","legendX":207,"legendY":589,"direction":"horizontal","symbolType":"M-1,0L1,0M-0.13,0A0.13,0.13 0 1,0 0.13,0A0.13,0.13 0 1,0 -0.13,0","symbolSize":576,"symbolStrokeWidth":1.5,"labelFont":"DejaVu Sans","labelFontWeight":"bold","labelFontSize":10.5,"labelColor":"#333333","columnPadding":10,"labelOffset":4,
"encode":{"symbols":{"update":{"fill":{"scale":"color","field":"value"}}}}}}
},
"layer":[
{"mark":{"type":"line","strokeWidth":1.5}},
{"transform":[{"filter":"datum.s !== 'PCV'"}],"mark":{"type":"point","filled":true,"size":20,"opacity":1}}
]
}
